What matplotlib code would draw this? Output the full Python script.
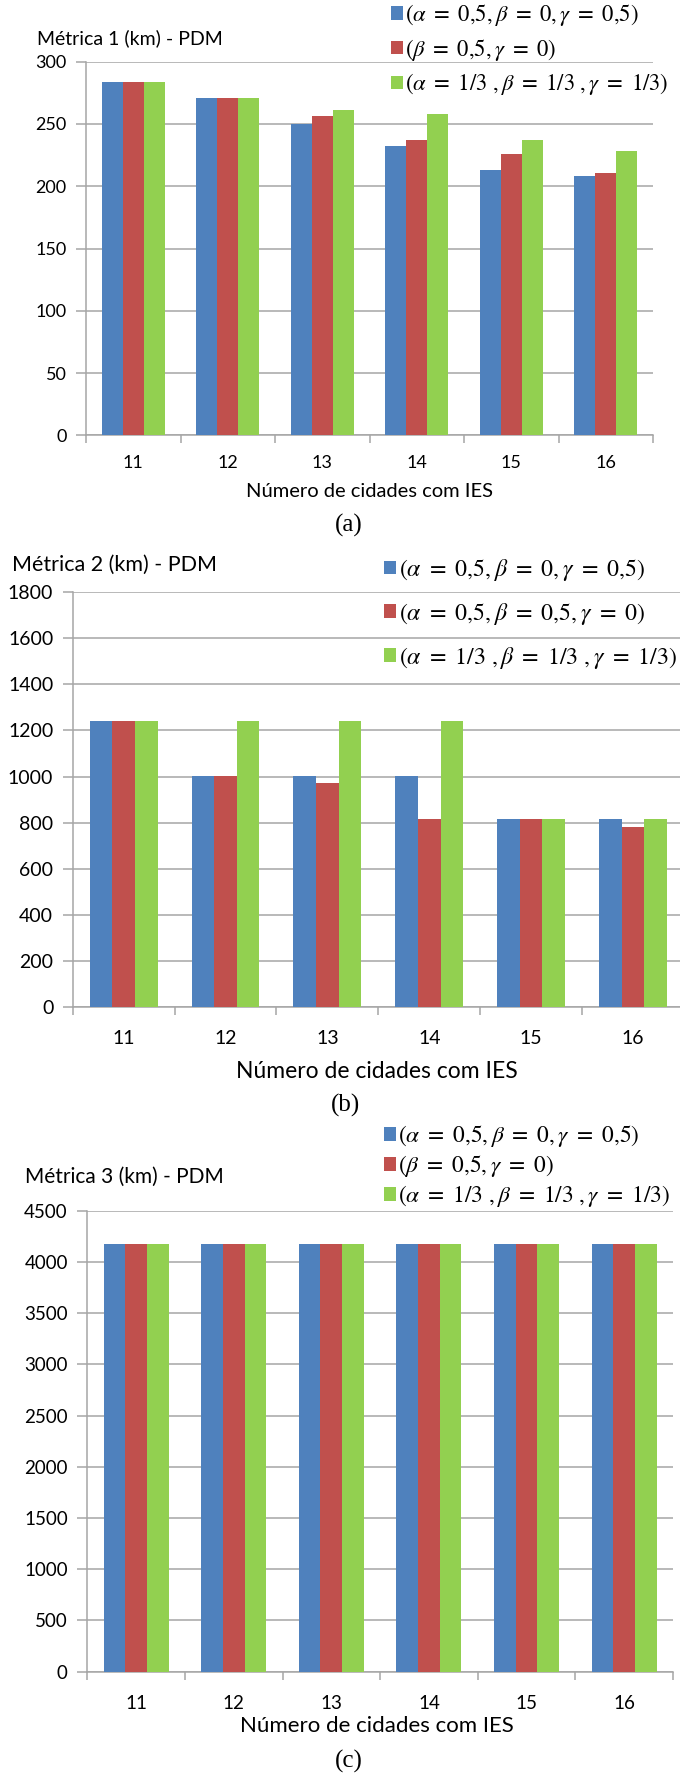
import numpy as np
import matplotlib
matplotlib.use('Agg')
import matplotlib.pyplot as plt

# number of cities with IES (x categories)
cidades = ['11', '12', '13', '14', '15', '16']

# Metrica 1 (km)
m1_a = [284, 271, 250, 232, 213, 208]
m1_b = [284, 271, 256, 237, 226, 211]
m1_c = [284, 271, 261, 258, 237, 228]

# Metrica 2 (km)
m2_a = [1240, 1002, 1002, 1002, 817, 817]
m2_b = [1240, 1002, 970, 817, 817, 781]
m2_c = [1240, 1240, 1240, 1240, 817, 817]

# Metrica 3 (km)
m3_a = [4173, 4173, 4173, 4173, 4173, 4173]
m3_b = [4173, 4173, 4173, 4173, 4173, 4173]
m3_c = [4173, 4173, 4173, 4173, 4173, 4173]

leg_a = r'$(\alpha\ =\ 0{,}5, \beta\ =\ 0, \gamma\ =\ 0{,}5)$'
leg_b_short = r'$(\beta\ =\ 0{,}5, \gamma\ =\ 0)$'
leg_b_long = r'$(\alpha\ =\ 0{,}5, \beta\ =\ 0{,}5, \gamma\ =\ 0)$'
leg_c = r'$(\alpha\ =\ 1/3\ , \beta\ =\ 1/3\ , \gamma\ =\ 1/3)$'

cores = ['#4F81BD', '#C0504D', '#92D050']

plt.rcParams['font.family'] = ['Lato', 'DejaVu Sans']
plt.rcParams['mathtext.fontset'] = 'stix'

W, H = 680, 1775
fig = plt.figure(figsize=(W / 100, H / 100), dpi=100)


def fx(px):
    return px / W


def fy(py):
    return 1 - py / H


def painel(left, right, top, bottom, series, labels, ymax, ystep,
           titulo, tx, ty, title_fs, leg_x, leg_y, leg_sp, leg_fs,
           tick_fs, xl_y, xlabel_xy, xlabel_fs, cap, cap_xy):
    ax = fig.add_axes([fx(left), fy(bottom), fx(right) - fx(left),
                       (bottom - top) / H])
    x = np.arange(len(cidades))
    w = 1 / 4.5
    barras = []
    for k, (vals, cor) in enumerate(zip(series, cores)):
        b = ax.bar(x + (k - 1) * w, vals, w, color=cor, zorder=3)
        barras.append(b)
    ax.set_xlim(-0.5, len(cidades) - 0.5)
    ax.set_ylim(0, ymax)
    ax.set_yticks(np.arange(0, ymax + 1, ystep))
    ax.yaxis.grid(True, color='#A6A6A6', lw=1.1, zorder=0)
    ax.set_axisbelow(True)
    for s in ['top', 'right']:
        ax.spines[s].set_visible(False)
    for s in ['left', 'bottom']:
        ax.spines[s].set_color('#A6A6A6')
        ax.spines[s].set_linewidth(1.1)
    ax.set_xticks(x)
    ax.set_xticklabels(cidades)
    ax.set_xticks(np.arange(-0.5, len(cidades)), minor=True)
    ax.tick_params(axis='x', which='major', length=0, pad=xl_y,
                   labelsize=tick_fs)
    ax.tick_params(axis='x', which='minor', length=6, width=1.1,
                   color='#A6A6A6', direction='out')
    ax.tick_params(axis='y', length=7, width=1.1, color='#A6A6A6',
                   pad=7, labelsize=tick_fs)
    fig.text(fx(tx), fy(ty), titulo, fontsize=title_fs,
             ha='left', va='center')
    fig.text(fx(xlabel_xy[0]), fy(xlabel_xy[1]),
             'Número de cidades com IES', fontsize=xlabel_fs,
             ha='center', va='center')
    fig.text(fx(cap_xy[0]), fy(cap_xy[1]), cap, fontsize=18,
             family='Liberation Serif', ha='center', va='center')
    ax.legend(barras, labels, loc='upper left',
              bbox_to_anchor=(fx(leg_x), fy(leg_y)),
              bbox_transform=fig.transFigure, frameon=False,
              borderpad=0, borderaxespad=0, handletextpad=0.1,
              handlelength=0.52, handleheight=0.52, labelspacing=leg_sp,
              fontsize=leg_fs)
    return ax


painel(86, 653, 61.7, 435.3, [m1_a, m1_b, m1_c],
       [leg_a, leg_b_short, leg_c], 300, 50,
       'Métrica 1 (km) - PDM', 37, 38, 14, 391, 2, 0.38, 16.3, 13, 14,
       (369, 491.7), 14.5, '(a)', (349, 525))

painel(72.7, 684, 592, 1007.3, [m2_a, m2_b, m2_c],
       [leg_a, leg_b_long, leg_c], 1800, 200,
       'Métrica 2 (km) - PDM', 12, 565, 15.5, 384, 557, 0.75, 17.2, 14, 16,
       (377, 1072), 16.5, '(b)', (345, 1105))

painel(87.3, 673, 1210.7, 1671.7, [m3_a, m3_b, m3_c],
       [leg_a, leg_b_short, leg_c], 4500, 500,
       'Métrica 3 (km) - PDM', 25, 1176.7, 15, 384, 1123, 0.18, 16.8, 13.5, 17,
       (377, 1726), 16, '(c)', (349, 1761.7))

fig.savefig('out.png', dpi=100)
